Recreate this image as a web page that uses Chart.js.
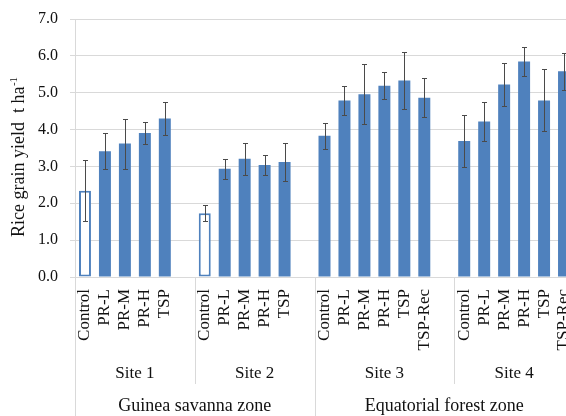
<!DOCTYPE html>
<html>
<head>
<meta charset="utf-8">
<script src="https://cdn.jsdelivr.net/npm/chart.js@4/dist/chart.umd.min.js"></script>
<style>
  html, body { margin: 0; padding: 0; background: #fff; overflow: hidden; }
  #wrap { width: 590px; height: 416px; }
</style>
</head>
<body>
<div id="wrap"><canvas id="c" width="590" height="416"></canvas></div>
<script>
// ---- data ----
const treatments5 = ['Control', 'PR-L', 'PR-M', 'PR-H', 'TSP'];
const treatments6 = ['Control', 'PR-L', 'PR-M', 'PR-H', 'TSP', 'TSP-Rec'];
const sites = ['Site 1', 'Site 2', 'Site 3', 'Site 4'];
const zones = ['Guinea savanna zone', 'Equatorial forest zone'];

const site1Yield = [2.34, 3.41, 3.62, 3.91, 4.30];
const site1Err   = [0.83, 0.49, 0.68, 0.29, 0.44];
const site2Yield = [1.73, 2.94, 3.21, 3.04, 3.12];
const site2Err   = [0.21, 0.27, 0.43, 0.28, 0.52];
const site3Yield = [3.83, 4.79, 4.96, 5.19, 5.33, 4.86];
const site3Err   = [0.35, 0.40, 0.82, 0.37, 0.77, 0.53];
const site4Yield = [3.69, 4.22, 5.22, 5.85, 4.79, 5.58];
const site4Err   = [0.71, 0.54, 0.58, 0.40, 0.84, 0.50];

const yTickLabels = ['0.0', '1.0', '2.0', '3.0', '4.0', '5.0', '6.0', '7.0'];

// ---- build the flat category table (blank slot after sites 1–3) ----
const siteDefs = [
  { name: sites[0], zone: 0, cats: treatments5, vals: site1Yield, errs: site1Err, hollowControl: true },
  { name: sites[1], zone: 0, cats: treatments5, vals: site2Yield, errs: site2Err, hollowControl: true },
  { name: sites[2], zone: 1, cats: treatments6, vals: site3Yield, errs: site3Err, hollowControl: false },
  { name: sites[3], zone: 1, cats: treatments6, vals: site4Yield, errs: site4Err, hollowControl: false }
];
const labels = [], values = [], errors = [], hollow = [], siteSpans = [];
siteDefs.forEach((s, si) => {
  const start = labels.length;
  s.cats.forEach((c, i) => {
    labels.push(c); values.push(s.vals[i]); errors.push(s.errs[i]);
    hollow.push(s.hollowControl && c === 'Control');
  });
  if (si < siteDefs.length - 1) { labels.push(''); values.push(null); errors.push(null); hollow.push(false); }
  siteSpans.push({ name: s.name, zone: s.zone, start, end: labels.length - 1 });
});

const BLUE = '#4F81BD';
const GRID = '#d9d9d9';
const FONT = '"Liberation Serif", "Times New Roman", serif';
const TEXT = '#111';

const errorBars = {
  id: 'errorBars',
  afterDatasetsDraw(chart) {
    const ctx = chart.ctx, ys = chart.scales.y;
    const meta = chart.getDatasetMeta(0);
    ctx.save();
    ctx.strokeStyle = '#4a4a4a';
    ctx.lineWidth = 1;
    meta.data.forEach((bar, i) => {
      const v = values[i], e = errors[i];
      if (v == null || e == null) return;
      const x = Math.round(bar.x) + 0.5;
      const yt = Math.round(ys.getPixelForValue(v + e)) + 0.5;
      const yb = Math.round(ys.getPixelForValue(v - e)) + 0.5;
      ctx.beginPath();
      ctx.moveTo(x, yt); ctx.lineTo(x, yb);
      ctx.moveTo(x - 2.5, yt); ctx.lineTo(x + 2.5, yt);
      ctx.moveTo(x - 2.5, yb); ctx.lineTo(x + 2.5, yb);
      ctx.stroke();
    });
    ctx.restore();
  }
};

const groupAxis = {
  id: 'groupAxis',
  afterDraw(chart) {
    const ctx = chart.ctx, xs = chart.scales.x, area = chart.chartArea;
    const H = chart.height;
    const boundary = (i) => (i <= 0) ? area.left
      : (i >= labels.length) ? area.right
      : (xs.getPixelForValue(i - 1) + xs.getPixelForValue(i)) / 2;
    ctx.save();
    ctx.strokeStyle = GRID;
    ctx.lineWidth = 1;
    // separators
    siteSpans.forEach((s, k) => {
      const xl = Math.round(boundary(s.start)) + 0.5;
      const zoneEdge = (k === 0) || (siteSpans[k - 1].zone !== s.zone);
      ctx.beginPath();
      ctx.moveTo(xl, area.bottom);
      ctx.lineTo(xl, zoneEdge ? H : 384);
      ctx.stroke();
    });
    const xr = Math.round(area.right) + 0.5;
    ctx.beginPath(); ctx.moveTo(xr, area.bottom); ctx.lineTo(xr, H); ctx.stroke();
    // site labels
    ctx.fillStyle = TEXT;
    ctx.textAlign = 'center';
    ctx.textBaseline = 'alphabetic';
    ctx.font = '17px ' + FONT;
    siteSpans.forEach((s) => {
      const cx = (boundary(s.start) + boundary(s.end + 1)) / 2;
      ctx.fillText(s.name, cx, 378);
    });
    // zone labels
    ctx.font = '18px ' + FONT;
    zones.forEach((z, zi) => {
      const spans = siteSpans.filter(s => s.zone === zi);
      const cx = (boundary(spans[0].start) + boundary(spans[spans.length - 1].end + 1)) / 2;
      ctx.fillText(z, cx, 411);
    });
    // y axis title with superscript
    ctx.translate(24, 237);
    ctx.rotate(-Math.PI / 2);
    ctx.textAlign = 'left';
    ctx.font = '18px ' + FONT;
    const main = 'Rice grain yield  t ha';
    ctx.fillText(main, 0, 0);
    const w = ctx.measureText(main).width;
    ctx.font = '11px ' + FONT;
    ctx.fillText('-1', w + 0.5, -7);
    ctx.restore();
  }
};

new Chart(document.getElementById('c'), {
  type: 'bar',
  data: {
    labels: labels,
    datasets: [{
      data: values,
      backgroundColor: hollow.map(h => h ? '#ffffff' : BLUE),
      borderColor: BLUE,
      borderWidth: hollow.map(h => h ? 2 : 0),
      borderSkipped: false,
      barPercentage: 0.6,
      categoryPercentage: 1.0
    }]
  },
  options: {
    responsive: false,
    animation: false,
    devicePixelRatio: 1,
    layout: { padding: { top: 19, right: 16, bottom: 0, left: 0 } },
    plugins: { legend: { display: false }, tooltip: { enabled: false } },
    scales: {
      x: {
        grid: { display: false, drawTicks: false, tickLength: 0 },
        border: { display: false },
        ticks: {
          autoSkip: false, minRotation: 90, maxRotation: 90, padding: 12,
          color: TEXT, font: { family: FONT, size: 17 }
        },
        afterFit(scale) { scale.height = 139; scale.paddingLeft = 0; scale.paddingRight = 0; }
      },
      y: {
        min: 0, max: 7,
        grid: { color: GRID, tickLength: 5, drawTicks: true },
        border: { color: GRID },
        ticks: {
          stepSize: 1, padding: 12, color: TEXT,
          font: { family: FONT, size: 16 },
          callback: (v) => yTickLabels[Math.round(v)]
        },
        afterFit(scale) { scale.width = 75; scale.paddingTop = 0; scale.paddingBottom = 0; }
      }
    }
  },
  plugins: [errorBars, groupAxis]
});
</script>
</body>
</html>
